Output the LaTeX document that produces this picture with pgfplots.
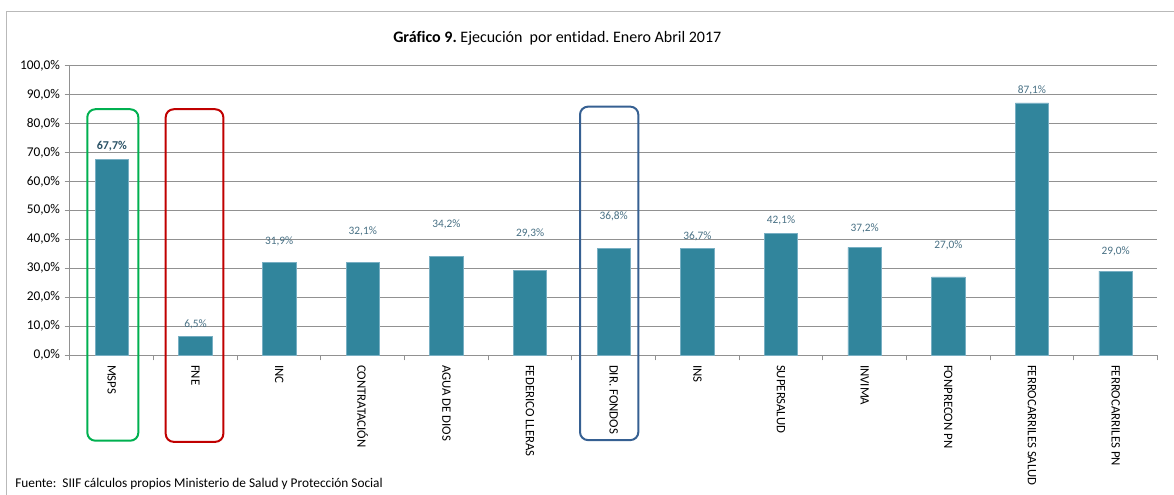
\documentclass[border=0pt]{standalone}
\usepackage{fontspec}
\setmainfont{Carlito}[Ligatures=NoCommon]
\usepackage{pgfplots}
\pgfplotsset{compat=1.18}
\frenchspacing
\definecolor{barcol}{RGB}{49,133,156}
\definecolor{baredge}{RGB}{120,175,195}
\definecolor{labcol}{RGB}{72,112,132}
\definecolor{labdark}{RGB}{42,82,102}
\definecolor{gridcol}{RGB}{145,145,145}
\definecolor{boxgreen}{RGB}{0,176,80}
\definecolor{boxred}{RGB}{192,0,0}
\definecolor{boxblue}{RGB}{54,96,146}
\begin{document}
\begin{tikzpicture}[x=1pt,y=1pt]
\path[use as bounding box] (-52.5,-104.25) rectangle (828,266.25);
\draw[gray!55, line width=0.75pt] (-47.25,-130) -- (-47.25,258.0) -- (840,258.0);
\node[font=\fontsize{12}{14}\selectfont, anchor=center] at (365.5,237.75) {\textbf{Gráfico 9.} Ejecución\ \ por entidad.\ Enero Abril 2017};
\node[font=\fontsize{10}{12}\selectfont, anchor=south west, inner sep=0pt] at (-41.25,-103.4) {\strut Fuente:\ \ SIIF cálculos propios Ministerio de Salud y Protección Social};
\begin{axis}[
  at={(0,0)}, anchor=south west,
  scale only axis, width=815.6pt, height=217.1pt,
  xmin=-0.5, xmax=12.5, ymin=0, ymax=100,
  clip=false,
  axis lines*=left,
  axis line style={gridcol, line width=0.75pt},
  ytick={0,10,...,100},
  yticklabels={{0,0\%},{10,0\%},{20,0\%},{30,0\%},{40,0\%},{50,0\%},{60,0\%},{70,0\%},{80,0\%},{90,0\%},{100,0\%}},
  ymajorgrids,
  grid style={gridcol, line width=0.75pt},
  xtick={-0.5,0.5,...,12.5},
  x tick label as interval,
  xticklabels={MSPS,FNE,INC,CONTRATACIÓN,AGUA DE DIOS,FEDERICO LLERAS,DIR. FONDOS,INS,SUPERSALUD,INVIMA,FONPRECON PN,FERROCARRILES SALUD,FERROCARRILES PN},
  tick align=outside,
  major tick length=4pt,
  tick style={gridcol, line width=0.75pt},
  yticklabel style={font=\fontsize{10}{12}\selectfont, text=black},
  xticklabel style={font=\fontsize{9.6}{11}\selectfont, rotate=-90, anchor=west, text=black},
]
\addplot[ybar, bar width=0.4, fill=barcol, draw=baredge, line width=0.5pt] coordinates {
(0,67.7) (1,6.5) (2,31.9) (3,32.1) (4,34.2) (5,29.3) (6,36.8) (7,36.7) (8,42.1) (9,37.2) (10,27.0) (11,87.1) (12,29.0)
};
\addplot[draw=none, mark=none, nodes near coords, point meta=explicit symbolic,
  every node near coord/.style={anchor=center, font=\fontsize{8.5}{10}\selectfont, text=labcol}] coordinates {
(0,72.2) [\textcolor{labdark}{\fontsize{9}{10}\selectfont\textbf{67,7\%}}]
(1,10.6) [6,5\%]
(2,39.4) [31,9\%]
(3,42.6) [32,1\%]
(4,45.2) [34,2\%]
(5,42.1) [29,3\%]
(6,47.8) [36,8\%]
(7,40.9) [36,7\%]
(8,46.4) [42,1\%]
(9,43.8) [37,2\%]
(10,38.0) [27,0\%]
(11,91.5) [87,1\%]
(12,35.7) [29,0\%]
};
\draw[boxgreen, line width=1.5pt, rounded corners=6pt] (axis cs:-0.293,-29.6) rectangle (axis cs:0.317,84.9);
\draw[boxred, line width=1.5pt, rounded corners=6pt] (axis cs:0.644,-30.0) rectangle (axis cs:1.333,84.9);
\draw[boxblue, line width=1.5pt, rounded corners=6pt] (axis cs:5.597,-29.4) rectangle (axis cs:6.294,85.8);
\end{axis}
\end{tikzpicture}
\end{document}
